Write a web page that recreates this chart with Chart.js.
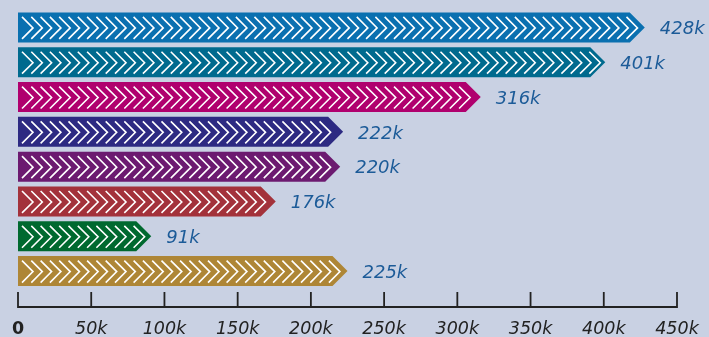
<!DOCTYPE html>
<html>
<head>
<meta charset="utf-8">
<script src="https://cdn.jsdelivr.net/npm/chart.js@4/dist/chart.umd.min.js"></script>
<style>
  html, body { margin: 0; padding: 0; background: #c9d1e3; }
  #wrap { width: 709px; height: 337px; }
</style>
</head>
<body>
<div id="wrap"><canvas id="chart"></canvas></div>
<script>
// Dữ liệu
const categories = ['Mục 1', 'Mục 2', 'Mục 3', 'Mục 4', 'Mục 5', 'Mục 6', 'Mục 7', 'Mục 8'];
const values = [428, 401, 316, 222, 220, 176, 91, 225]; // nghìn
const barColors = ['#0a70b0', '#006a8e', '#b0006e', '#2d2a82', '#6c1a70', '#a3323b', '#00692f', '#ae8636'];
const tickValues = [0, 50, 100, 150, 200, 250, 300, 350, 400, 450];

const FONT = '"DejaVu Sans", sans-serif';

// Vẽ mũi tên có hoa văn chevron thay cho thanh bar
const arrowBars = {
    id: 'arrowBars',
    afterDatasetsDraw(chart) {
        const ctx = chart.ctx;
        const meta = chart.getDatasetMeta(0);
        const head = 15;
        meta.data.forEach((bar, i) => {
            const top = bar.y - bar.height / 2;
            const bottom = bar.y + bar.height / 2;
            const left = bar.base;
            const right = bar.x;

            ctx.save();
            ctx.beginPath();
            ctx.moveTo(left, top);
            ctx.lineTo(right - head, top);
            ctx.lineTo(right, bar.y);
            ctx.lineTo(right - head, bottom);
            ctx.lineTo(left, bottom);
            ctx.closePath();
            ctx.fillStyle = barColors[i];
            ctx.fill();
            ctx.clip();

            // chevron trắng
            ctx.strokeStyle = '#ffffff';
            ctx.lineWidth = 1.6;
            ctx.lineCap = 'butt';
            for (let cx = left + 4; cx + 11 < right - 4; cx += 9.3) {
                ctx.beginPath();
                ctx.moveTo(cx, top + 4.5);
                ctx.lineTo(cx + 11, bar.y + 0.5);
                ctx.lineTo(cx, bottom - 3.5);
                ctx.stroke();
            }
            ctx.restore();

            // nhãn giá trị
            ctx.save();
            ctx.fillStyle = '#1c5b98';
            ctx.font = 'italic 18px ' + FONT;
            ctx.textAlign = 'left';
            ctx.textBaseline = 'middle';
            ctx.fillText(values[i] + 'k', right + 15, bar.y + 2);
            ctx.restore();
        });
    }
};

// Trục X tự vẽ: vạch chia hướng lên trên
const customAxis = {
    id: 'customAxis',
    afterDraw(chart) {
        const ctx = chart.ctx;
        const xs = chart.scales.x;
        const axisY = chart.chartArea.bottom + 18.5;
        ctx.save();
        ctx.strokeStyle = '#222222';
        ctx.lineWidth = 1.8;
        ctx.beginPath();
        ctx.moveTo(xs.left, axisY);
        ctx.lineTo(xs.right, axisY);
        tickValues.forEach(v => {
            const px = xs.getPixelForValue(v);
            ctx.moveTo(px, axisY - 15);
            ctx.lineTo(px, axisY + 0.9);
        });
        ctx.stroke();
        ctx.restore();
    }
};

new Chart(document.getElementById('chart'), {
    type: 'bar',
    data: {
        labels: categories,
        datasets: [{
            data: values,
            backgroundColor: 'rgba(0,0,0,0)',
            borderWidth: 0,
            barPercentage: 0.86,
            categoryPercentage: 1
        }]
    },
    options: {
        indexAxis: 'y',
        responsive: true,
        maintainAspectRatio: false,
        animation: false,
        layout: { padding: { left: 18, right: 32, top: 10, bottom: 0 } },
        plugins: { legend: { display: false }, tooltip: { enabled: false } },
        scales: {
            y: { display: false },
            x: {
                min: 0,
                max: 450,
                grid: { display: false, drawTicks: false },
                border: { display: false },
                afterBuildTicks: (axis) => { axis.ticks = tickValues.map(v => ({ value: v })); },
                afterFit: (axis) => {
                    axis.height = 48.5;
                    axis.paddingLeft = 0;
                    axis.paddingRight = 0;
                },
                ticks: {
                    padding: 32,
                    color: '#222222',
                    maxRotation: 0,
                    autoSkip: false,
                    callback: (v) => v === 0 ? '0' : v + 'k',
                    font: (c) => c.tick && c.tick.value === 0
                        ? { family: FONT, size: 17.5, weight: 'bold', style: 'normal', lineHeight: 1 }
                        : { family: FONT, size: 17.5, style: 'italic', lineHeight: 1 }
                }
            }
        }
    },
    plugins: [arrowBars, customAxis]
});
</script>
</body>
</html>
